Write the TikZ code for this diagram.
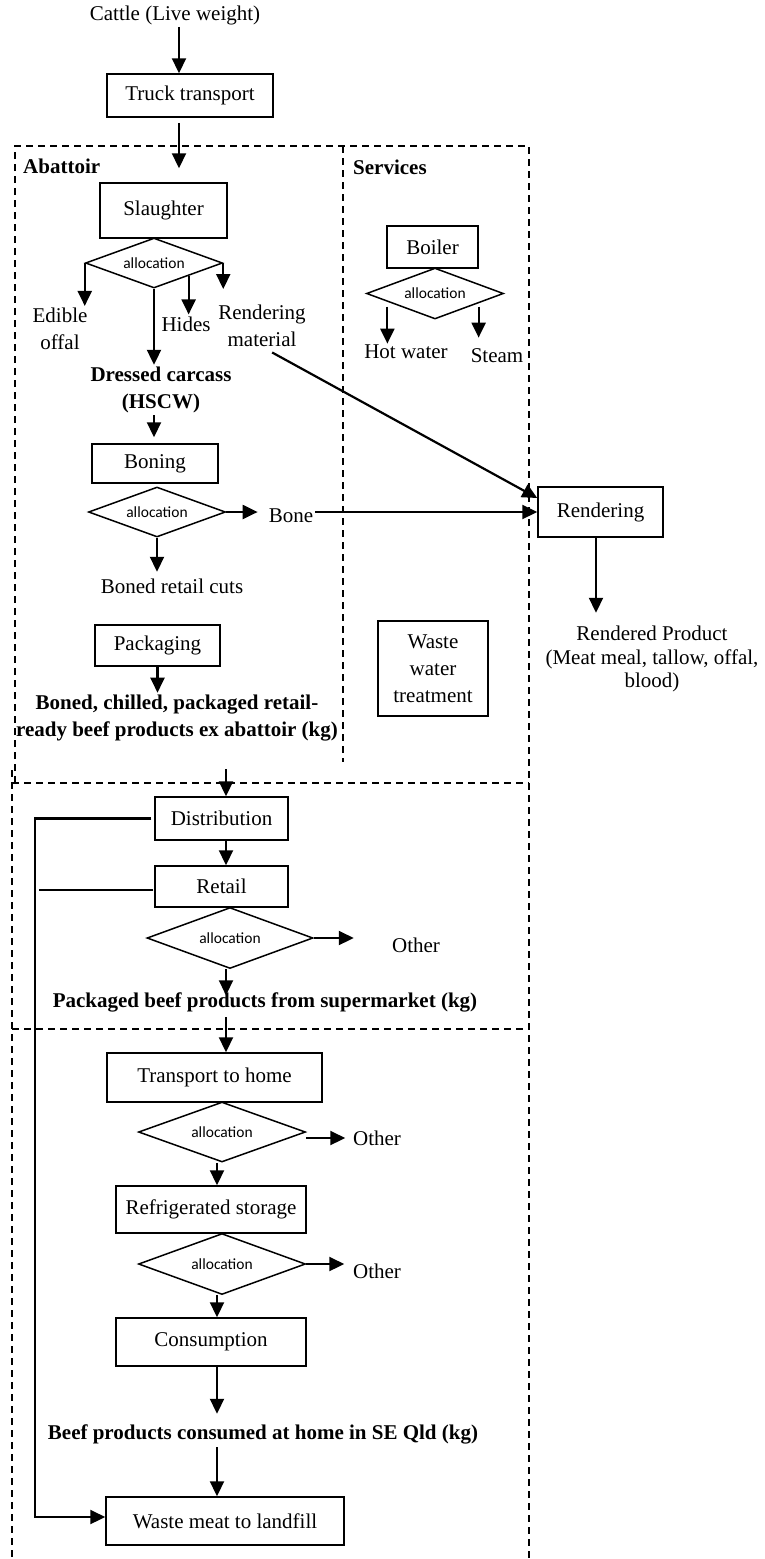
\documentclass[tikz,border=0pt]{standalone}
\usepackage{fontspec}
\setmainfont{Liberation Serif}
\newfontfamily\allocfont{Carlito}
\usetikzlibrary{positioning}
\usetikzlibrary{shapes.geometric}
\usetikzlibrary{arrows.meta}
\newcommand{\labelsize}{\fontsize{21}{27}\selectfont}
\tikzstyle{process}=[draw, line width=1.5pt, inner sep=0pt]
\tikzstyle{alloc}=[diamond, aspect=2.7, draw, line width=1.5pt, inner sep=0pt, font=\allocfont\fontsize{15.5}{18}\selectfont]
\tikzstyle{flow}=[-{Triangle[length=15pt,width=14pt]}, line width=2.2pt]
\tikzstyle{return}=[line width=2.2pt]
\tikzstyle{zone}=[line width=1.3pt, dash pattern=on 7pt off 5pt]
\tikzstyle{result}=[font=\labelsize\bfseries]

\begin{document}
\begin{tikzpicture}[x=1pt, y=-1pt, font=\labelsize, inner sep=2pt, every text node part/.style={align=center}]
    \useasboundingbox (0,0) rectangle (765,1559);

    % dashed system boundaries
    \draw[zone] (15,783) -- (15,146) -- (529,146) -- (529,1559);
    \draw[zone] (343,146) -- (343,762);
    \draw[zone] (12,770) -- (12,1559);
    \draw[zone] (12,783) -- (529,783);
    \draw[zone] (12,1029) -- (529,1029);

    \node (cattle) at (175,15) {Cattle (Live weight)};
    \node[process, minimum width=166pt, minimum height=43pt] (truck) at (190,95.5) {Truck transport};

    % abattoir
    \node[result, anchor=west] (abattoir) at (21,166) {Abattoir};
    \node[process, minimum width=127pt, minimum height=55pt] (slaughter) at (163.5,210.5) {Slaughter};
    \node[alloc, minimum width=137pt, minimum height=50pt] (split1) at (154,263) {allocation};
    \node (offal)   at (60,329)  {Edible\\offal};
    \node (hides)   at (186,324) {Hides};
    \node (rendmat) at (262,326) {Rendering\\material};
    \node[result] (carcass) at (161,390) {Dressed carcass\\(HSCW)};
    \node[process, minimum width=126pt, minimum height=39pt] (boning) at (155,463.5) {Boning};
    \node[alloc, minimum width=137pt, minimum height=50pt] (split3) at (157,512) {allocation};
    \node (bone) at (291,516) {Bone};
    \node (cuts) at (172,586) {Boned retail cuts};
    \node[process, minimum width=125pt, minimum height=41pt] (packaging) at (157.5,645.5) {Packaging};
    \node[result] (exabattoir) at (177,718) {Boned, chilled, packaged retail-\\ready beef products ex abattoir (kg)};

    % services
    \node[result, anchor=west] (services) at (351,167) {Services};
    \node[process, minimum width=91pt, minimum height=42pt] (boiler) at (432.5,247) {Boiler};
    \node[alloc, minimum width=137pt, minimum height=51pt] (split2) at (435,293.5) {allocation};
    \node (hotwater) at (406,352) {Hot water};
    \node (steam)    at (497,356) {Steam};
    \node[process, minimum width=110pt, minimum height=95pt] (wastewater) at (433,668.5) {Waste\\water\\treatment};

    \node[process, minimum width=125pt, minimum height=50pt] (rendering) at (600.5,512) {Rendering};
    \node[font=\fontsize{21}{23.5}\selectfont] (product) at (652,659) {Rendered Product\\(Meat meal, tallow, offal,\\blood)};

    % retail
    \node[process, minimum width=133pt, minimum height=43pt] (distribution) at (221.5,818.5) {Distribution};
    \node[process, minimum width=133pt, minimum height=41pt] (retail) at (221.5,886.5) {Retail};
    \node[alloc, minimum width=166pt, minimum height=61pt] (split4) at (230,938) {allocation};
    \node (other1) at (416,945) {Other};
    \node[result] (supermarket) at (265,1002) {Packaged beef products from supermarket (kg)};

    % home
    \node[process, minimum width=215pt, minimum height=49pt] (transport) at (214.5,1077.5) {Transport to home};
    \node[alloc, minimum width=167pt, minimum height=60pt] (split5) at (222,1132) {allocation};
    \node (other2) at (377,1138) {Other};
    \node[process, minimum width=190pt, minimum height=47pt] (storage) at (211,1209.5) {Refrigerated storage};
    \node[alloc, minimum width=167pt, minimum height=61pt] (split6) at (222,1264) {allocation};
    \node (other3) at (377,1271) {Other};
    \node[process, minimum width=190pt, minimum height=48pt] (consumption) at (211,1342) {Consumption};
    \node[result] (consumed) at (263,1434) {Beef products consumed at home in SE Qld (kg)};
    \node[process, minimum width=238pt, minimum height=48pt] (landfill) at (225,1521) {Waste meat to landfill};
    \coordinate (loop) at (35,1200);

    \draw[flow] ([xshift=4pt]cattle.south) -- ([xshift=-11pt]truck.north);
    \draw[flow, shorten <=5pt, shorten >=14pt] ([xshift=-11pt]truck.south) -- ([xshift=15.5pt]slaughter.north);
    \draw[flow] (split1.west) -- (split1.west |- offal.north);
    \draw[flow] (split1.east) -- ++(0,26);
    \draw[flow] (split1.south east) -- (split1.south east |- hides.north);
    \draw[flow] (split1.south) -- (split1.south |- carcass.north);
    \draw[flow, shorten >=6pt] (split1.south |- carcass.south) -- (split1.south |- boning.north);
    \draw[flow] ([xshift=-13pt]split2.south west) -- ++(0,37);
    \draw[flow] ([xshift=9pt]split2.south east) -- ++(0,31);
    \draw[flow, shorten <=7pt] ([xshift=4pt]rendmat.south) -- ([yshift=14pt]rendering.west);
    \draw[flow, shorten >=9pt] (split3.east) -- (split3.east -| bone.west);
    \draw[flow] (bone.east |- rendering.west) -- (rendering.west);
    \draw[flow] (split3.south) -- ++(0,34);
    \draw[flow] (packaging.south) -- (packaging.south |- exabattoir.north);
    \draw[flow] ([xshift=-4.5pt]rendering.south) -- ++(0,75);

    \draw[flow] ([xshift=4.5pt,yshift=27pt]distribution.north) -- ([xshift=4.5pt]distribution.north);
    \draw[flow] ([xshift=4.5pt]distribution.south) -- ([xshift=4.5pt]retail.north);
    \draw[flow] (split4.east) -- ++(40,0);
    \draw[flow] ([xshift=-4pt]split4.south) -- ++(0,26);
    \draw[flow] ([xshift=11.5pt,yshift=35pt]transport.north) -- ([xshift=11.5pt]transport.north);
    \draw[flow] ([yshift=-6pt]split5.east) -- ++(39,0);
    \draw[flow] ([xshift=-5pt]split5.south) -- ([xshift=6pt]storage.north);
    \draw[flow] (split6.east) -- ++(38,0);
    \draw[flow] ([xshift=-5pt]split6.south) -- ([xshift=6pt]consumption.north);
    \draw[flow] ([xshift=6pt]consumption.south) -- ++(0,47);
    \draw[flow] ([xshift=-8pt,yshift=49pt]landfill.north) -- ([xshift=-8pt]landfill.north);
    \draw[flow] ([xshift=-3pt]distribution.west) -| (loop) |- ([yshift=4pt]landfill.west);
    \draw[return] ([xshift=-1pt,yshift=-3.5pt]retail.west) -- ++(-114,0);
\end{tikzpicture}
\end{document}
